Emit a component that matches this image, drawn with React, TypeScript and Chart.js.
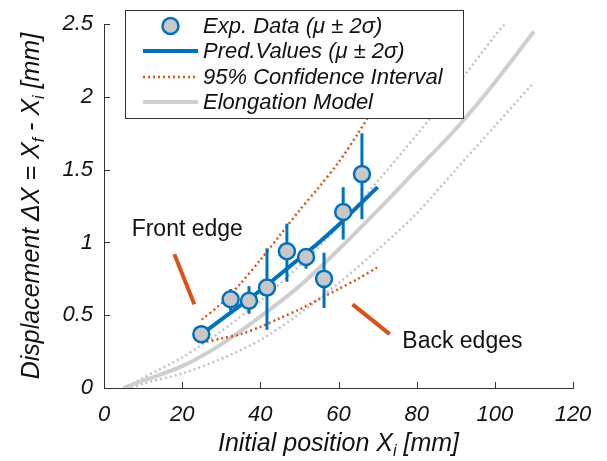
import React, { useEffect, useRef } from "react";
import { Chart, registerables } from "chart.js";

Chart.register(...registerables);

// ---- data ----
const expX = [24.9, 32.4, 37.1, 41.7, 46.8, 51.7, 56.3, 61.2, 66.0];
const expY = [0.37, 0.61, 0.6, 0.69, 0.94, 0.9, 0.75, 1.21, 1.47];
const expLow = [0.31, 0.53, 0.51, 0.4, 0.73, 0.82, 0.55, 1.02, 1.16];
const expHigh = [0.43, 0.68, 0.7, 0.96, 1.13, 0.96, 0.93, 1.38, 1.75];

const predX = [25, 30, 35, 40, 45, 50, 55, 60, 65, 70];
const predY = [0.37, 0.47, 0.57, 0.67, 0.78, 0.89, 1.0, 1.12, 1.25, 1.38];
const ciUpperY = [0.47, 0.58, 0.72, 0.88, 1.05, 1.22, 1.38, 1.55, 1.75, 1.97];
const ciLowerY = [0.31, 0.34, 0.37, 0.42, 0.48, 0.54, 0.61, 0.68, 0.75, 0.83];

const modelX = [5, 10, 20, 30, 40, 50, 60, 70, 80, 90, 100, 110];
const modelY = [0, 0.05, 0.15, 0.3, 0.49, 0.7, 0.95, 1.22, 1.5, 1.78, 2.1, 2.45];
const modelUpperX = [5, 10, 20, 30, 40, 50, 60, 70, 80, 90, 100, 102.5];
const modelUpperY = [0, 0.07, 0.21, 0.39, 0.6, 0.84, 1.11, 1.42, 1.74, 2.07, 2.42, 2.5];
const modelLowerX = [7, 10, 20, 30, 40, 50, 60, 70, 80, 90, 100, 110];
const modelLowerY = [0, 0.03, 0.1, 0.2, 0.33, 0.51, 0.72, 0.95, 1.2, 1.5, 1.8, 2.1];

const xTicks = [0, 20, 40, 60, 80, 100, 120];
const yTicks = [0, 0.5, 1, 1.5, 2, 2.5];
const xTickLabels = ["0", "20", "40", "60", "80", "100", "120"];
const yTickLabels = ["0", "0.5", "1", "1.5", "2", "2.5"];

const legendLabels = [
  "Exp. Data (\u03BC \u00B1 2\u03C3)",
  "Pred.Values (\u03BC \u00B1 2\u03C3)",
  "95% Confidence Interval",
  "Elongation Model",
];

const frontLabel = "Front edge";
const frontLabelAt = [21.3, 1.09];
const frontPointer = [[18.0, 0.92], [23.1, 0.575]];
const backLabel = "Back edges";
const backLabelAt = [91.7, 0.32];
const backPointer = [[63.6, 0.575], [73.1, 0.37]];

// ---- styles ----
const FONT = '"Liberation Sans", Arial, sans-serif';
const BLUE = "#0072BD";
const ORANGE = "#D95319";
const GRAY = "#cfcfcf";
const GRAY_DOT = "#c2c2c2";
const AXIS = "#333333";

const zip = (xs: number[], ys: number[]) => xs.map((x, i) => ({ x, y: ys[i] }));

const overlayPlugin = {
  id: "overlay",
  beforeDatasetDraw(chart: any, args: any) {
    if (args.index !== 0) return;
    const { ctx, scales } = chart;
    const xs = scales.x;
    const ys = scales.y;
    ctx.save();
    ctx.strokeStyle = BLUE;
    ctx.lineWidth = 3;
    ctx.lineCap = "butt";
    expX.forEach((x, i) => {
      const px = xs.getPixelForValue(x);
      ctx.beginPath();
      ctx.moveTo(px, ys.getPixelForValue(expLow[i]));
      ctx.lineTo(px, ys.getPixelForValue(expHigh[i]));
      ctx.stroke();
    });
    ctx.restore();
  },
  afterDraw(chart: any) {
    const { ctx, scales, chartArea } = chart;
    const xs = scales.x;
    const ys = scales.y;
    ctx.save();

    // inward ticks
    ctx.strokeStyle = AXIS;
    ctx.lineWidth = 1;
    xTicks.forEach((v) => {
      const px = Math.round(xs.getPixelForValue(v)) + 0.5;
      ctx.beginPath();
      ctx.moveTo(px, chartArea.bottom);
      ctx.lineTo(px, chartArea.bottom - 6);
      ctx.stroke();
    });
    yTicks.forEach((v) => {
      const py = Math.round(ys.getPixelForValue(v)) + 0.5;
      ctx.beginPath();
      ctx.moveTo(chartArea.left, py);
      ctx.lineTo(chartArea.left + 6, py);
      ctx.stroke();
    });

    // annotations
    ctx.strokeStyle = ORANGE;
    ctx.lineWidth = 4;
    ctx.lineCap = "butt";
    [frontPointer, backPointer].forEach((seg) => {
      ctx.beginPath();
      ctx.moveTo(xs.getPixelForValue(seg[0][0]), ys.getPixelForValue(seg[0][1]));
      ctx.lineTo(xs.getPixelForValue(seg[1][0]), ys.getPixelForValue(seg[1][1]));
      ctx.stroke();
    });
    ctx.fillStyle = "#111";
    ctx.font = `23px ${FONT}`;
    ctx.textAlign = "center";
    ctx.textBaseline = "middle";
    ctx.fillText(frontLabel, xs.getPixelForValue(frontLabelAt[0]), ys.getPixelForValue(frontLabelAt[1]));
    ctx.fillText(backLabel, xs.getPixelForValue(backLabelAt[0]), ys.getPixelForValue(backLabelAt[1]));

    // legend box
    const lx = 125.5, ly = 10.5, lw = 338, lh = 108;
    ctx.fillStyle = "#fff";
    ctx.fillRect(lx, ly, lw, lh);
    ctx.strokeStyle = AXIS;
    ctx.lineWidth = 1;
    ctx.strokeRect(lx, ly, lw, lh);
    const rows = [26, 51, 77, 102];
    const s0 = 143, s1 = 198;
    // row 0: marker
    ctx.beginPath();
    ctx.arc((s0 + s1) / 2, rows[0], 8, 0, Math.PI * 2);
    ctx.fillStyle = "#c8c8c8";
    ctx.fill();
    ctx.lineWidth = 2.5;
    ctx.strokeStyle = BLUE;
    ctx.stroke();
    // row 1: blue line
    ctx.beginPath();
    ctx.moveTo(s0, rows[1]);
    ctx.lineTo(s1, rows[1]);
    ctx.lineWidth = 4;
    ctx.strokeStyle = BLUE;
    ctx.stroke();
    // row 2: orange dotted
    ctx.beginPath();
    ctx.setLineDash([2, 3]);
    ctx.moveTo(s0, rows[2]);
    ctx.lineTo(s1, rows[2]);
    ctx.lineWidth = 2.5;
    ctx.strokeStyle = ORANGE;
    ctx.stroke();
    ctx.setLineDash([]);
    // row 3: gray line
    ctx.beginPath();
    ctx.moveTo(s0, rows[3]);
    ctx.lineTo(s1, rows[3]);
    ctx.lineWidth = 4;
    ctx.strokeStyle = GRAY;
    ctx.stroke();

    ctx.fillStyle = "#111";
    ctx.font = `italic 22px ${FONT}`;
    ctx.textAlign = "left";
    ctx.textBaseline = "middle";
    legendLabels.forEach((t, i) => ctx.fillText(t, 203, rows[i] + 1));

    // axis titles with subscripts
    const drawParts = (parts: { t: string; sub?: boolean }[], cx: number, cy: number) => {
      const big = `italic 25px ${FONT}`;
      const small = `italic 16px ${FONT}`;
      let total = 0;
      parts.forEach((p) => {
        ctx.font = p.sub ? small : big;
        total += ctx.measureText(p.t).width;
      });
      let x = cx - total / 2;
      ctx.textAlign = "left";
      ctx.textBaseline = "middle";
      parts.forEach((p) => {
        ctx.font = p.sub ? small : big;
        ctx.fillText(p.t, x, p.sub ? cy + 8 : cy);
        x += ctx.measureText(p.t).width;
      });
    };
    ctx.fillStyle = "#111";
    drawParts(
      [{ t: "Initial position X" }, { t: "i", sub: true }, { t: " [mm]" }],
      (chartArea.left + chartArea.right) / 2,
      444
    );
    ctx.save();
    ctx.translate(32, (chartArea.top + chartArea.bottom) / 2);
    ctx.rotate(-Math.PI / 2);
    drawParts(
      [
        { t: "Displacement \u0394X = X" },
        { t: "f", sub: true },
        { t: " - X" },
        { t: "i", sub: true },
        { t: " [mm]" },
      ],
      0,
      0
    );
    ctx.restore();

    ctx.restore();
  },
};

export default function App() {
  const ref = useRef<HTMLCanvasElement | null>(null);

  useEffect(() => {
    document.body.style.margin = "0";
    const canvas = ref.current;
    if (!canvas) return;
    const chart = new Chart(canvas, {
      type: "scatter",
      data: {
        datasets: [
          {
            label: legendLabels[0],
            data: zip(expX, expY),
            showLine: false,
            pointRadius: 8,
            pointBackgroundColor: "#c8c8c8",
            pointBorderColor: BLUE,
            pointBorderWidth: 2.5,
            order: 0,
          },
          {
            label: legendLabels[1],
            data: zip(predX, predY),
            showLine: true,
            borderColor: BLUE,
            borderWidth: 4,
            pointRadius: 0,
            tension: 0.3,
            order: 1,
          },
          {
            label: legendLabels[2],
            data: zip(predX, ciUpperY),
            showLine: true,
            borderColor: ORANGE,
            borderWidth: 2.5,
            borderDash: [2, 3],
            pointRadius: 0,
            tension: 0.3,
            order: 2,
          },
          {
            label: "CI lower",
            data: zip(predX, ciLowerY),
            showLine: true,
            borderColor: ORANGE,
            borderWidth: 2.5,
            borderDash: [2, 3],
            pointRadius: 0,
            tension: 0.3,
            order: 3,
          },
          {
            label: legendLabels[3],
            data: zip(modelX, modelY),
            showLine: true,
            borderColor: GRAY,
            borderWidth: 4,
            pointRadius: 0,
            tension: 0.3,
            order: 4,
          },
          {
            label: "Model upper",
            data: zip(modelUpperX, modelUpperY),
            showLine: true,
            borderColor: GRAY_DOT,
            borderWidth: 2.5,
            borderDash: [2, 3],
            pointRadius: 0,
            tension: 0.3,
            order: 5,
          },
          {
            label: "Model lower",
            data: zip(modelLowerX, modelLowerY),
            showLine: true,
            borderColor: GRAY_DOT,
            borderWidth: 2.5,
            borderDash: [2, 3],
            pointRadius: 0,
            tension: 0.3,
            order: 6,
          },
        ],
      },
      options: {
        responsive: false,
        animation: false,
        devicePixelRatio: 1,
        layout: { padding: { top: 22, right: 34, left: 0, bottom: 0 } },
        plugins: {
          legend: { display: false },
          tooltip: { enabled: false },
        },
        scales: {
          x: {
            type: "linear",
            min: 0,
            max: 120,
            afterBuildTicks: (s: any) => {
              s.ticks = xTicks.map((v) => ({ value: v }));
            },
            afterFit: (s: any) => {
              s.height = 73;
            },
            ticks: {
              callback: (v: any) => xTickLabels[xTicks.indexOf(Number(v))] ?? String(v),
              font: { family: FONT, size: 22, style: "italic" },
              color: "#111",
              padding: 14,
              maxRotation: 0,
            },
            grid: { drawOnChartArea: false, drawTicks: false },
            border: { display: true, color: AXIS, width: 1 },
          },
          y: {
            type: "linear",
            min: 0,
            max: 2.5,
            afterBuildTicks: (s: any) => {
              s.ticks = yTicks.map((v) => ({ value: v }));
            },
            afterFit: (s: any) => {
              s.width = 104;
            },
            ticks: {
              callback: (v: any) => yTickLabels[yTicks.indexOf(Number(v))] ?? String(v),
              font: { family: FONT, size: 22, style: "italic" },
              color: "#111",
              padding: 11,
            },
            grid: { drawOnChartArea: false, drawTicks: false },
            border: { display: true, color: AXIS, width: 1 },
          },
        },
      },
      plugins: [overlayPlugin],
    } as any);
    return () => chart.destroy();
  }, []);

  return <canvas ref={ref} width={607} height={461} style={{ display: "block", width: 607, height: 461 }} />;
}
